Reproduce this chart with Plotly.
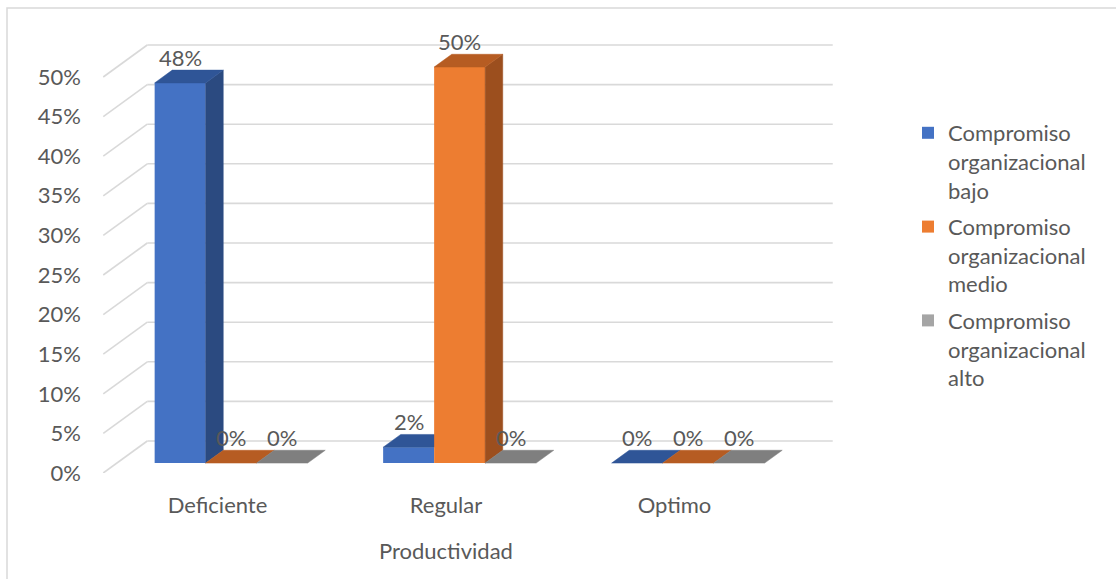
import plotly.graph_objects as go

# ---- data -------------------------------------------------------------
categories = ["Deficiente", "Regular", "Optimo"]
series_names = [
    "Compromiso<br>organizacional<br>bajo",
    "Compromiso<br>organizacional<br>medio",
    "Compromiso<br>organizacional<br>alto",
]
bajo = [48, 2, 0]
medio = [0, 50, 0]
alto = [0, 0, 0]
y_ticks = [0, 5, 10, 15, 20, 25, 30, 35, 40, 45, 50]
x_title = "Productividad"

series_values = [bajo, medio, alto]

# ---- style ------------------------------------------------------------
FONT = "Lato"
FS = 22
TEXT = "#595959"
GRID = "#d9d9d9"
FRONT = ["#4472C4", "#ED7D31", "#A5A5A5"]
TOP = ["#2F5597", "#B65C22", "#7F7F7F"]
SIDE = ["#2B4A80", "#9C4F1E", "#737373"]

W, H = 1116, 579
M_L, M_R, M_T, M_B = 102, 283, 40, 106

# oblique 3-D projection: one unit of depth moves a point by (DX, DY)
DX, DY = 0.1926, 4.04          # category units, percent units
T_FRONT, T_BACK = 0.31, 0.71   # depth of the bar front / back faces
BAR_W = 0.2232                 # bar width in category units
X_RANGE = [-0.5055, 2.6937]
Y_RANGE = [0, 54.67]

dt = T_BACK - T_FRONT
base = DY * T_FRONT            # front-face floor level

fig = go.Figure()
annotations = []

# one overlaid subplot per series so later series paint over earlier ones
for k, (name, vals) in enumerate(zip(series_names, series_values)):
    xa = "x" if k == 0 else f"x{k + 1}"
    ya = "y" if k == 0 else f"y{k + 1}"
    centers = [i + (k - 1) * BAR_W + DX * T_FRONT for i in range(len(categories))]

    fig.add_trace(go.Bar(
        x=centers, y=vals, base=base, width=BAR_W,
        marker=dict(color=FRONT[k], line=dict(width=0)),
        name=name, legendgroup=f"g{k}", hoverinfo="skip",
        xaxis=xa, yaxis=ya,
    ))

    sx, sy, tx, ty = [], [], [], []
    for i, (c, v) in enumerate(zip(centers, vals)):
        xl, xr = c - BAR_W / 2, c + BAR_W / 2
        top = base + v
        # side face, skipped when the neighbouring bar hides it completely
        nxt = series_values[k + 1][i] if k + 1 < len(series_values) else None
        if v > 0 and (nxt is None or nxt < v + DY * dt):
            sx += [xr, xr + DX * dt, xr + DX * dt, xr, xr, None]
            sy += [base, base + DY * dt, top + DY * dt, top, base, None]
        # top face
        tx += [xl, xr, xr + DX * dt, xl + DX * dt, xl, None]
        ty += [top, top, top + DY * dt, top + DY * dt, top, None]

        annotations.append(dict(
            x=c, y=top + DY * dt, xref="x", yref="y",
            text=f"{v}%", showarrow=False, yanchor="bottom", yshift=-3,
            font=dict(family=FONT, size=FS, color=TEXT),
        ))

    if sx:
        fig.add_trace(go.Scatter(
            x=sx, y=sy, mode="lines", fill="toself", fillcolor=SIDE[k],
            line=dict(color=SIDE[k], width=0.5), showlegend=False,
            hoverinfo="skip", xaxis=xa, yaxis=ya,
        ))
    fig.add_trace(go.Scatter(
        x=tx, y=ty, mode="lines", fill="toself", fillcolor=TOP[k],
        line=dict(color=TOP[k], width=0.5), showlegend=False,
        hoverinfo="skip", xaxis=xa, yaxis=ya,
    ))

# walls: slanted lines on the side wall and horizontal lines on the back wall
shapes = []
x_left = X_RANGE[0] + 0.0055
x_right = len(categories) - 0.5
for v in y_ticks:
    shapes.append(dict(type="line", xref="x", yref="y", layer="below",
                       x0=x_left, y0=v, x1=x_left + DX, y1=v + DY,
                       line=dict(color=GRID, width=1.6)))
    shapes.append(dict(type="line", xref="x", yref="y", layer="below",
                       x0=x_left + DX, y0=v + DY, x1=x_right + DX, y1=v + DY,
                       line=dict(color=GRID, width=1.6)))

# chart border
pw, ph = W - M_L - M_R, H - M_T - M_B
shapes.append(dict(type="rect", xref="paper", yref="paper", layer="below",
                   x0=(7 - M_L) / pw, x1=(W + 10 - M_L) / pw,
                   y0=-(H + 10 - (H - M_B)) / ph, y1=(H - M_B - 8) / ph,
                   line=dict(color=GRID, width=1.5)))

annotations.append(dict(
    x=1, y=0, xref="x", yref="paper", yshift=-77, yanchor="middle",
    text=x_title, showarrow=False, font=dict(family=FONT, size=FS, color=TEXT),
))

axis_common = dict(showgrid=False, zeroline=False, showline=False, fixedrange=True)
layout = dict(
    width=W, height=H,
    margin=dict(l=M_L, r=M_R, t=M_T, b=M_B, pad=0),
    paper_bgcolor="white", plot_bgcolor="rgba(0,0,0,0)",
    font=dict(family=FONT, size=FS, color=TEXT),
    barmode="overlay", showlegend=True,
    xaxis=dict(range=X_RANGE, tickvals=list(range(len(categories))),
               ticktext=categories, ticks="", ticklabelstandoff=17,
               tickfont=dict(family=FONT, size=FS, color=TEXT), **axis_common),
    yaxis=dict(range=Y_RANGE, tickvals=y_ticks,
               ticktext=[f"{t}%" for t in y_ticks], ticks="",
               ticklabelstandoff=20,
               tickfont=dict(family=FONT, size=FS, color=TEXT), **axis_common),
    legend=dict(x=(908 - M_L) / pw, xanchor="left", y=(H - M_B - 112) / ph,
                yanchor="top", valign="top", tracegroupgap=5,
                font=dict(family=FONT, size=FS, color=TEXT),
                bgcolor="rgba(0,0,0,0)"),
    shapes=shapes, annotations=annotations,
)
for k in range(1, len(series_values)):
    layout[f"xaxis{k + 1}"] = dict(range=X_RANGE, overlaying="x", visible=False, **axis_common)
    layout[f"yaxis{k + 1}"] = dict(range=Y_RANGE, overlaying="y", visible=False, **axis_common)

fig.update_layout(**layout)
fig.write_html("out.html")
